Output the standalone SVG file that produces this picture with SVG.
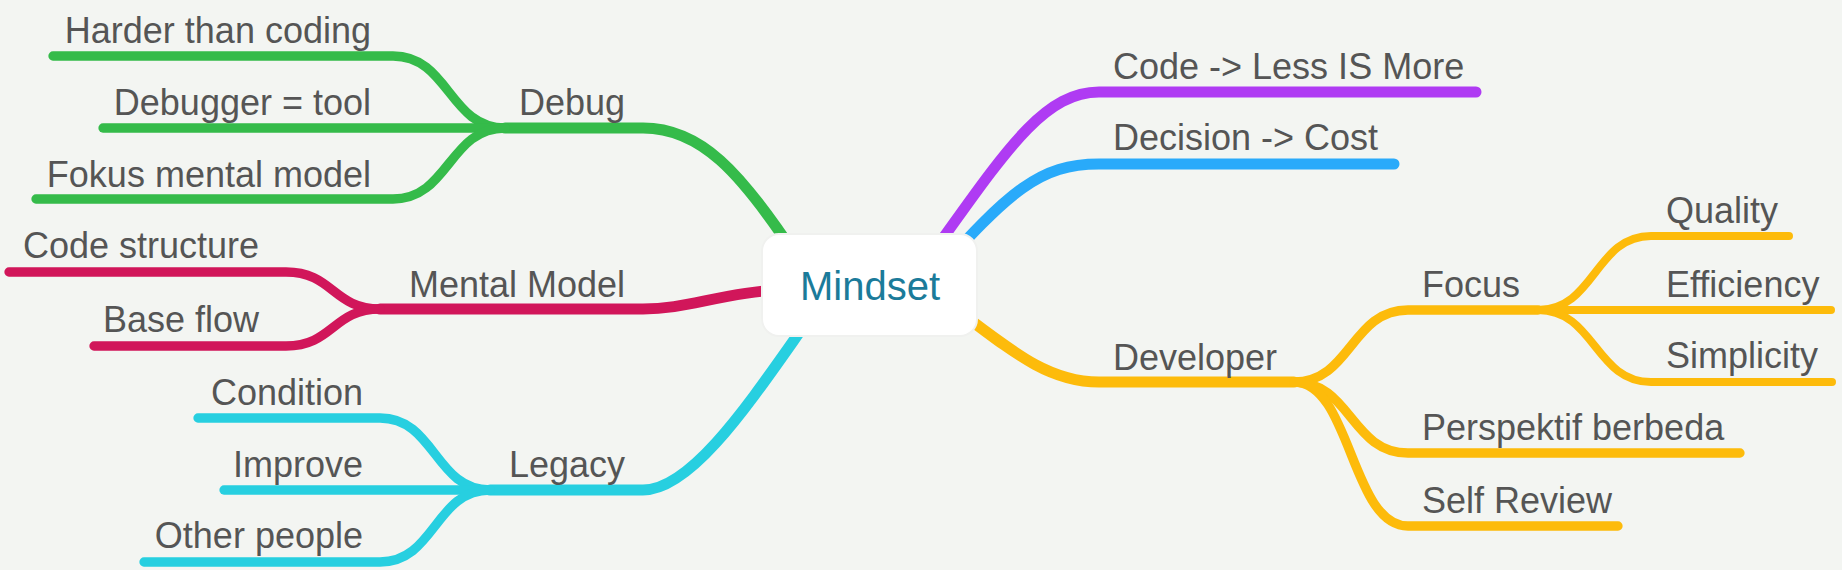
<svg xmlns="http://www.w3.org/2000/svg" width="1842" height="570" viewBox="0 0 1842 570">
<style>
.bg{fill:#f3f5f2}
.c{fill:none;stroke-linecap:round;stroke-linejoin:round}
.w1{stroke-width:11}
.w2{stroke-width:9.3}
.w3{stroke-width:8}
.green{stroke:#35bb4a}
.pink{stroke:#d1165a}
.cyan{stroke:#27cfe0}
.purple{stroke:#af3bf3}
.blue{stroke:#29aafa}
.yellow{stroke:#fdbb0b}
.t{font-family:"Liberation Sans",Arial,Helvetica,sans-serif;font-size:36px;fill:#555555}
.l{text-anchor:end}
.root{fill:#ffffff;stroke:#f0f1ef;stroke-width:2}
.rt{font-family:"Liberation Sans",Arial,Helvetica,sans-serif;font-size:40px;fill:#1b7b9a;text-anchor:middle}
</style>
<rect class="bg" x="0" y="0" width="1842" height="570"/>
<g id="connectors">
  <!-- Debug -->
  <path class="c w1 green" d="M505,128 L643,128 C700,128 740,170 800,262"/>
  <path class="c w2 green" d="M53,56 H393 C449,56 449,128 505,128"/>
  <path class="c w2 green" d="M103,128 H505"/>
  <path class="c w2 green" d="M36,199 H393 C449,199 449,128 505,128"/>
  <!-- Mental Model -->
  <path class="c w1 pink" d="M380,309 L643,309 C690,309 720,292 800,288"/>
  <path class="c w2 pink" d="M9,272 H286 C333,272 333,309 380,309"/>
  <path class="c w2 pink" d="M94,346 H286 C333,346 333,309 380,309"/>
  <!-- Legacy -->
  <path class="c w1 cyan" d="M490,490 L643,490 C700,490 770,370 830,290"/>
  <path class="c w2 cyan" d="M198,418 H380 C435,418 435,490 490,490"/>
  <path class="c w2 cyan" d="M224,490 H490"/>
  <path class="c w2 cyan" d="M144,562 H380 C435,562 435,490 490,490"/>
  <!-- Right -->
  <path class="c w1 purple" d="M920,270 C1000,160 1040,92 1099,92 H1476"/>
  <path class="c w1 blue" d="M930,280 C1010,190 1040,164 1099,164 H1394"/>
  <path class="c w1 yellow" d="M930,290 C1000,340 1040,382 1099,382 H1294"/>
  <path class="c w2 yellow" d="M1294,382 C1351,382 1351,310 1408,310 H1538"/>
  <path class="c w2 yellow" d="M1294,382 C1351,382 1351,453 1408,453 H1740"/>
  <path class="c w2 yellow" d="M1294,382 C1351,382 1351,526 1408,526 H1618"/>
  <path class="c w3 yellow" d="M1538,310 C1595,310 1595,236 1651,236 H1789"/>
  <path class="c w3 yellow" d="M1538,310 H1831"/>
  <path class="c w3 yellow" d="M1538,310 C1595,310 1595,382 1651,382 H1832"/>
</g>
<g id="node-mindset">
  <rect class="root" x="762" y="234" width="215" height="102" rx="17" ry="17"/>
  <text class="rt" x="870" y="300">Mindset</text>
</g>
<g id="node-debug"><text class="t l" x="625" y="115">Debug</text></g>
<g id="node-harder"><text class="t l" x="371" y="43">Harder than coding</text></g>
<g id="node-debugger"><text class="t l" x="371" y="115">Debugger = tool</text></g>
<g id="node-fokus"><text class="t l" x="371" y="187">Fokus mental model</text></g>
<g id="node-mental"><text class="t l" x="625" y="297">Mental Model</text></g>
<g id="node-codestructure"><text class="t l" x="259" y="258">Code structure</text></g>
<g id="node-baseflow"><text class="t l" x="259" y="332">Base flow</text></g>
<g id="node-legacy"><text class="t l" x="625" y="477">Legacy</text></g>
<g id="node-condition"><text class="t l" x="363" y="405">Condition</text></g>
<g id="node-improve"><text class="t l" x="363" y="477">Improve</text></g>
<g id="node-other"><text class="t l" x="363" y="548">Other people</text></g>
<g id="node-code"><text class="t" x="1113" y="79">Code -&gt; Less IS More</text></g>
<g id="node-decision"><text class="t" x="1113" y="150">Decision -&gt; Cost</text></g>
<g id="node-developer"><text class="t" x="1113" y="370">Developer</text></g>
<g id="node-focus"><text class="t" x="1422" y="297">Focus</text></g>
<g id="node-quality"><text class="t" x="1666" y="223">Quality</text></g>
<g id="node-efficiency"><text class="t" x="1666" y="297">Efficiency</text></g>
<g id="node-simplicity"><text class="t" x="1666" y="368">Simplicity</text></g>
<g id="node-perspektif"><text class="t" x="1422" y="440">Perspektif berbeda</text></g>
<g id="node-selfreview"><text class="t" x="1422" y="513">Self Review</text></g>
</svg>
